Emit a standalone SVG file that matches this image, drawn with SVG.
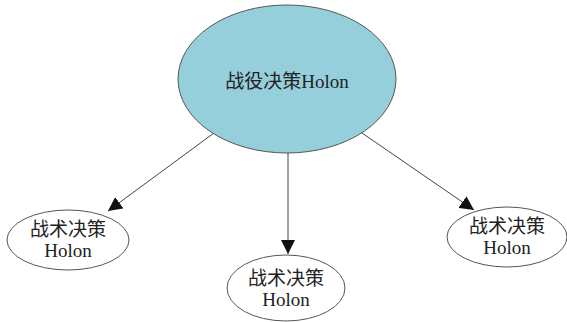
<svg xmlns="http://www.w3.org/2000/svg" width="567" height="322" viewBox="0 0 567 322">
<style>
.n{stroke:#555;stroke-width:1}
.t{font-family:"Liberation Serif","Noto Sans CJK SC",serif;fill:#222;text-anchor:middle}
.c{stroke:#444;stroke-width:1;fill:none}
</style>
<defs>
<marker id="ah" viewBox="0 0 10 10" refX="10" refY="5" markerWidth="14" markerHeight="14" markerUnits="userSpaceOnUse" orient="auto">
<path d="M0,0 L10,5 L0,10 z" fill="#111"/>
</marker>
</defs>
<rect width="567" height="322" fill="#fff"/>
<g id="connectors">
<line class="c" x1="214" y1="133" x2="108" y2="211" marker-end="url(#ah)"/>
<line class="c" x1="288" y1="153" x2="288" y2="254" marker-end="url(#ah)"/>
<line class="c" x1="362" y1="133" x2="474" y2="210" marker-end="url(#ah)"/>
</g>
<g id="root">
<ellipse class="n" cx="287" cy="79" rx="109" ry="74" fill="#96cfdc"/>
<text class="t" x="287" y="88" font-size="19">战役决策Holon</text>
</g>
<g id="left">
<ellipse class="n" cx="68" cy="240" rx="61" ry="30" fill="#fff"/>
<text class="t" x="68" y="236" font-size="19">战术决策</text>
<text class="t" x="68" y="257" font-size="19">Holon</text>
</g>
<g id="middle">
<ellipse class="n" cx="286" cy="288" rx="59" ry="33" fill="#fff"/>
<text class="t" x="286" y="285" font-size="19">战术决策</text>
<text class="t" x="286" y="306" font-size="19">Holon</text>
</g>
<g id="right">
<ellipse class="n" cx="507" cy="237" rx="60" ry="30" fill="#fff"/>
<text class="t" x="507" y="233" font-size="19">战术决策</text>
<text class="t" x="507" y="254" font-size="19">Holon</text>
</g>
</svg>
